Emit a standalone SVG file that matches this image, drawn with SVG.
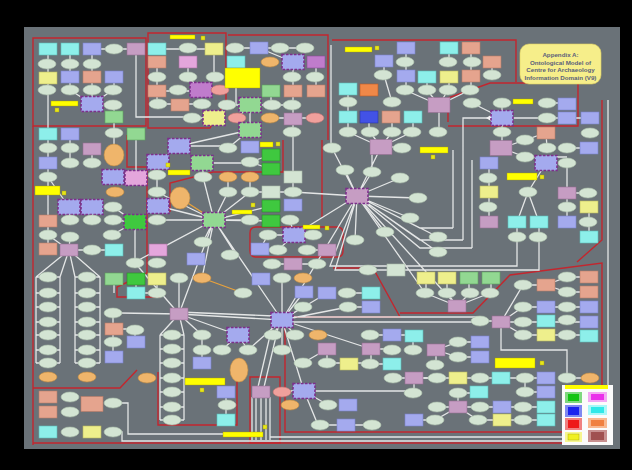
<svg xmlns="http://www.w3.org/2000/svg" width="632" height="470" viewBox="0 0 632 470">
<style>
.e{fill:#d3e4d3;stroke:#aabdaa;stroke-width:.6}
.b{fill:#a4aaee;stroke:#7a82cc;stroke-width:.6}
.B{fill:#4252e6;stroke:#2a36a0;stroke-width:.6}
.c{fill:#8defea;stroke:#5cbcb8;stroke-width:.6}
.s{fill:#e5a48e;stroke:#b77c68;stroke-width:.6}
.m{fill:#c69dc3;stroke:#966f93;stroke-width:.6}
.v{fill:#c07ccc;stroke:#8a4c96;stroke-width:.6}
.k{fill:#e4a6dc;stroke:#a870a0;stroke-width:.6}
.y{fill:#eeef8c;stroke:#b8b860;stroke-width:.6}
.g{fill:#92d892;stroke:#5ea45e;stroke-width:.6}
.G{fill:#3fc83f;stroke:#2a8a2a;stroke-width:.6}
.o{fill:#efb56b;stroke:#c08a40;stroke-width:.6}
.p{fill:#f0a09c;stroke:#c07070;stroke-width:.6}
.r{fill:#f08848;stroke:#b85a28;stroke-width:.6}
.q{fill:#d3e4d3;stroke:#aabdaa;stroke-width:.6}
.h{stroke:#7d2f8c;stroke-width:1.6;stroke-dasharray:2.5 1.5}
.lb{fill:#ffff00;stroke:#a8a000;stroke-width:.4}
.sq{fill:#e6e61c;stroke:#a8a000;stroke-width:.4}
#connectors path{fill:none;stroke:#e4e6e6;stroke-width:1.3}
#regions path{fill:none;stroke:#c3262e;stroke-width:1.4}
.title{font-family:"Liberation Sans",Arial,sans-serif;font-weight:bold;font-size:6.2px;fill:#5a5f7a;text-anchor:middle}
</style>
<defs>
<ellipse id="E" rx="9" ry="5"/>
<rect id="R" x="-9" y="-6" width="18" height="12"/>
<rect id="H" x="-11" y="-7.5" width="22" height="15"/>
<ellipse id="OB" rx="10" ry="11"/>
<ellipse id="OT" rx="9" ry="12"/>
</defs>
<rect width="632" height="470" fill="#000"/>
<rect x="24" y="27" width="596" height="422" fill="#6a7278"/>

<g id="regions">
<path d="M33,38H146V126H33Z"/>
<path d="M148,33H226V100L210,128H148Z"/>
<path d="M228,35H328V140"/>
<path d="M332,40H516V82"/>
<path d="M448,122V98L490,83H578V126H448"/>
<path d="M602,100V240L577,262"/>
<path d="M127,135V167H147V273L117,287V297H160"/>
<path d="M33,126V445"/>
<path d="M33,388H120L137,370"/>
<path d="M158,372V425H237V380"/>
<path d="M250,377H280V443H250Z"/>
<path d="M33,443H603"/>
<path d="M400,313H473L510,275L602,263V432H285V320"/>
<path d="M293,317H400L373,268H333"/>
<path d="M256,227H337Q343,227 343,233V251Q343,257 337,257H256Q250,257 250,251V233Q250,227 256,227Z"/>
<path d="M283,140V172H213L170,183V212"/>
<path d="M322,140V217"/>
</g>

<g id="connectors">
<path d="M48,49V134M70,49V90M92,49V104M92,49H136M114,77V90M70,90L92,104M113,90L92,104M92,104H113M114,105V133M136,49V117H192"/>
<path d="M157,49H214M157,62V104M188,62V77M214,49V77M157,91H220M188,77L201,90M158,104H202M192,118H214"/>
<path d="M235,48H305M259,48L293,62M293,62V192M316,62V91M271,91V105M227,105H292M250,105V130M237,118L250,105M270,118H315M236,62V105M250,130L228,148M250,130L179,146"/>
<path d="M406,48V90M384,61V75M449,48V62M471,48V90M492,62V75M427,77V90M449,77V90M348,89V132M439,105L405,90M439,105L427,90M439,105L448,90M439,105L470,90M439,105V132M381,147L348,132M381,147L370,132M381,147L392,132M381,147L412,132M381,147H402M369,117V132M392,117V132M413,117V132M392,102L384,75M331,45V148"/>
<path d="M472,103L502,118M502,103V148M502,118H547M547,103H567M547,118H590M502,148L525,140M502,148L525,157M525,157H567M525,140L546,133L547,148M567,148H589M489,163V222M528,192L517,222M528,192L539,222M517,222V237M539,222V237M567,193H588M567,193V222M589,207V237M567,163V193M546,163L528,192M490,118H463V240M453,150V228M472,160V248"/>
<path d="M179,146H228M202,163H250M250,162L271,155M250,162L271,169M203,177V163M228,177V192M250,177V192M250,192H293M214,220L228,192M214,220L250,192M214,220L203,177M214,220H250M214,220L271,206M214,220L271,221M214,220L203,242M214,220L157,220M214,220L157,192M214,220L158,206M290,220L294,235M294,235H268M294,235H313M268,235L260,249M278,250L294,235M307,250H327M158,162L179,146M157,175V192M214,220L179,314M214,220L236,255M214,220L282,320M214,220L202,278M214,220L158,250M214,220L133,263"/>
<path d="M48,134V249M70,134V163M114,133V155M92,149V163M136,134V178M48,177L69,207M69,207H113L135,222M70,220L69,207M92,220V207M113,220L135,222M135,222L112,235M135,222V263M48,235L69,250M70,237L69,250M69,250H114M69,250L36,277M69,250L60,277M69,250L75,277M69,250L100,277M36,277V363M60,277V363M75,277V363M100,277V363M36,277H60M36,293H60M36,307H60M36,322H60M36,335H60M36,350H60M36,363H60M75,277H100M75,293H100M75,307H100M75,322H100M75,335H100M75,350H100M75,363H100M114,279V293M136,279V293M157,279V293M136,293H157M113,313V357M135,330V342M114,329H135"/>
<path d="M179,314V278M179,314L160,335M179,314L184,335M160,335V420M184,335V420M160,335H184M160,349H184M160,363H184M160,378H184M160,392H184M160,407H184M160,420H184M179,314L202,335M179,314L238,335M179,314L282,320M179,312L274,316M179,314L135,263M179,314L120,313M238,335L222,350M238,335L248,350M202,335V363M226,392V420M252,397V440M256,397V440M261,397V440M266,397V440M270,397V440M258,387L272,327M264,387L278,328M113,403H128V434H252M113,432H122V441H603M270,437H603M608,100V441"/>
<path d="M272,264H317M282,278V320M304,292L282,320M303,307L282,320M348,307L282,320M327,293L282,320M347,293H371M348,307H371M282,320L273,335M282,320L295,335M282,320L248,350M282,320V350M327,349V363M303,363L327,349M327,363H370M370,335H414M371,349H392M371,349V364M370,364H392M282,320L371,349M293,317H480M293,322H480M304,391H413M304,391L328,405M304,391H282M304,391L282,320M393,378H437M414,378V393M304,391L318,425H346M346,425H372"/>
<path d="M457,306L425,293M457,306L447,293M457,306L470,293M457,306L490,293M426,278V293M447,278V293M469,278V293M491,278V293M480,321H501M501,322L523,307M501,322H523M501,322L523,335M523,307H589M523,322H589M523,335H589M501,322L523,285H546M546,285L567,277H589M546,285L567,292H589M501,327V350H567V378H590M436,350L458,342H480M436,350L458,357H480M436,350V365M413,350V336M414,378H546M525,378V392H546M458,407V393H479M458,407H437M458,407H546M458,407L435,420H414M458,407L478,420H546M357,196L330,266H517V237M357,196L335,270H539V237M357,196L457,306M357,196L425,293"/>
<path d="M357,196L345,170M357,196L372,172M357,196L400,178M357,196L418,198M357,196L410,218M357,196L385,232M357,196L355,240M357,196L381,147M357,196L332,148M357,196L420,228H453M357,196L420,240H463M357,196L420,248H472M357,196L282,320M357,196L294,235M357,196L293,192M357,196L438,237M357,196L438,252M372,172V147"/>
<path d="M202,278L243,293M180,198L214,220" style="stroke:#e8a23c"/>
<path d="M486,118L491,115V121Z" style="fill:#f2f2f2;stroke:none"/>
</g>

<g id="n1"><use href="#R" class="c" x="48" y="49"/></g>
<g id="n2"><use href="#R" class="c" x="70" y="49"/></g>
<g id="n3"><use href="#R" class="b" x="92" y="49"/></g>
<g id="n4"><use href="#E" class="e" x="114" y="49"/></g>
<g id="n5"><use href="#R" class="m" x="136" y="49"/></g>
<g id="n6"><use href="#E" class="e" x="47" y="64"/></g>
<g id="n7"><use href="#E" class="e" x="70" y="64"/></g>
<g id="n8"><use href="#E" class="e" x="92" y="64"/></g>
<g id="n9"><use href="#R" class="y" x="48" y="78"/></g>
<g id="n10"><use href="#R" class="b" x="70" y="77"/></g>
<g id="n11"><use href="#R" class="s" x="92" y="77"/></g>
<g id="n12"><use href="#R" class="b" x="114" y="77"/></g>
<g id="n13"><use href="#E" class="e" x="47" y="90"/></g>
<g id="n14"><use href="#E" class="e" x="70" y="90"/></g>
<g id="n15"><use href="#E" class="e" x="92" y="90"/></g>
<g id="n16"><use href="#E" class="e" x="113" y="90"/></g>
<g id="n17"><use href="#H" class="b h" x="92" y="104"/></g>
<g id="n18"><use href="#E" class="e" x="113" y="105"/></g>
<g id="n19"><use href="#R" class="g" x="114" y="117"/></g>
<g id="n20"><use href="#R" class="c" x="157" y="49"/></g>
<g id="n21"><use href="#E" class="e" x="188" y="48"/></g>
<g id="n22"><use href="#R" class="y" x="214" y="49"/></g>
<g id="n23"><use href="#R" class="s" x="157" y="62"/></g>
<g id="n24"><use href="#R" class="k" x="188" y="62"/></g>
<g id="n25"><use href="#E" class="e" x="157" y="77"/></g>
<g id="n26"><use href="#E" class="e" x="188" y="77"/></g>
<g id="n27"><use href="#E" class="e" x="215" y="77"/></g>
<g id="n28"><use href="#R" class="s" x="157" y="91"/></g>
<g id="n29"><use href="#E" class="e" x="178" y="90"/></g>
<g id="n30"><use href="#H" class="v h" x="201" y="90"/></g>
<g id="n31"><use href="#E" class="p" x="220" y="90"/></g>
<g id="n32"><use href="#E" class="e" x="158" y="104"/></g>
<g id="n33"><use href="#R" class="s" x="180" y="105"/></g>
<g id="n34"><use href="#E" class="e" x="202" y="104"/></g>
<g id="n35"><use href="#E" class="e" x="192" y="118"/></g>
<g id="n36"><use href="#H" class="y h" x="214" y="118"/></g>
<g id="n37"><use href="#E" class="e" x="235" y="48"/></g>
<g id="n38"><use href="#R" class="b" x="259" y="48"/></g>
<g id="n39"><use href="#E" class="e" x="280" y="48"/></g>
<g id="n40"><use href="#E" class="e" x="305" y="48"/></g>
<g id="n41"><use href="#R" class="c" x="236" y="62"/></g>
<g id="n42"><use href="#E" class="o" x="270" y="62"/></g>
<g id="n43"><use href="#H" class="b h" x="293" y="62"/></g>
<g id="n44"><use href="#R" class="v" x="316" y="62"/></g>
<g id="n45"><use href="#E" class="e" x="292" y="77"/></g>
<g id="n46"><use href="#E" class="e" x="315" y="77"/></g>
<g id="n47"><use href="#R" class="g" x="271" y="91"/></g>
<g id="n48"><use href="#R" class="s" x="293" y="91"/></g>
<g id="n49"><use href="#R" class="s" x="316" y="91"/></g>
<g id="n50"><use href="#E" class="e" x="227" y="105"/></g>
<g id="n51"><use href="#H" class="g h" x="250" y="105"/></g>
<g id="n52"><use href="#E" class="e" x="272" y="105"/></g>
<g id="n53"><use href="#E" class="e" x="292" y="105"/></g>
<g id="n54"><use href="#E" class="p" x="237" y="118"/></g>
<g id="n55"><use href="#E" class="o" x="270" y="118"/></g>
<g id="n56"><use href="#R" class="m" x="293" y="119"/></g>
<g id="n57"><use href="#E" class="p" x="315" y="118"/></g>
<g id="n58"><use href="#H" class="g h" x="250" y="130"/></g>
<g id="n59"><use href="#E" class="e" x="292" y="132"/></g>
<g id="n60"><use href="#R" class="b" x="406" y="48"/></g>
<g id="n61"><use href="#R" class="c" x="449" y="48"/></g>
<g id="n62"><use href="#R" class="s" x="471" y="48"/></g>
<g id="n63"><use href="#R" class="b" x="384" y="61"/></g>
<g id="n64"><use href="#E" class="e" x="405" y="62"/></g>
<g id="n65"><use href="#E" class="e" x="448" y="62"/></g>
<g id="n66"><use href="#E" class="e" x="472" y="62"/></g>
<g id="n67"><use href="#R" class="s" x="492" y="62"/></g>
<g id="n68"><use href="#E" class="e" x="383" y="75"/></g>
<g id="n69"><use href="#R" class="b" x="406" y="76"/></g>
<g id="n70"><use href="#R" class="c" x="427" y="77"/></g>
<g id="n71"><use href="#R" class="y" x="449" y="77"/></g>
<g id="n72"><use href="#R" class="s" x="471" y="76"/></g>
<g id="n73"><use href="#E" class="e" x="492" y="75"/></g>
<g id="n74"><use href="#R" class="c" x="348" y="89"/></g>
<g id="n75"><use href="#R" class="r" x="369" y="90"/></g>
<g id="n76"><use href="#E" class="e" x="405" y="90"/></g>
<g id="n77"><use href="#E" class="e" x="427" y="90"/></g>
<g id="n78"><use href="#E" class="e" x="448" y="90"/></g>
<g id="n79"><use href="#E" class="e" x="470" y="90"/></g>
<g id="n80"><use href="#E" class="e" x="348" y="102"/></g>
<g id="n81"><use href="#E" class="e" x="392" y="102"/></g>
<g id="n82"><use href="#H" class="m" x="439" y="105"/></g>
<g id="n83"><use href="#R" class="c" x="348" y="117"/></g>
<g id="n84"><use href="#R" class="B" x="369" y="117"/></g>
<g id="n85"><use href="#R" class="s" x="391" y="117"/></g>
<g id="n86"><use href="#R" class="c" x="413" y="117"/></g>
<g id="n87"><use href="#E" class="e" x="348" y="132"/></g>
<g id="n88"><use href="#E" class="e" x="370" y="132"/></g>
<g id="n89"><use href="#E" class="e" x="392" y="132"/></g>
<g id="n90"><use href="#E" class="e" x="412" y="132"/></g>
<g id="n91"><use href="#E" class="e" x="438" y="132"/></g>
<g id="n92"><use href="#H" class="m" x="381" y="147"/></g>
<g id="n93"><use href="#E" class="e" x="332" y="148"/></g>
<g id="n94"><use href="#E" class="e" x="402" y="148"/></g>
<g id="n95"><use href="#E" class="e" x="472" y="103"/></g>
<g id="n96"><use href="#E" class="e" x="502" y="103"/></g>
<g id="n97"><use href="#E" class="e" x="547" y="103"/></g>
<g id="n98"><use href="#R" class="b" x="567" y="104"/></g>
<g id="n99"><use href="#H" class="b h" x="502" y="118"/></g>
<g id="n100"><use href="#E" class="e" x="547" y="118"/></g>
<g id="n101"><use href="#R" class="b" x="567" y="118"/></g>
<g id="n102"><use href="#R" class="b" x="590" y="118"/></g>
<g id="n104"><use href="#E" class="e" x="502" y="132"/></g>
<g id="n105"><use href="#R" class="s" x="546" y="133"/></g>
<g id="n106"><use href="#E" class="e" x="590" y="133"/></g>
<g id="n107"><use href="#H" class="m" x="501" y="148"/></g>
<g id="n108"><use href="#E" class="e" x="525" y="140"/></g>
<g id="n109"><use href="#E" class="e" x="547" y="148"/></g>
<g id="n110"><use href="#E" class="e" x="567" y="148"/></g>
<g id="n111"><use href="#R" class="b" x="589" y="148"/></g>
<g id="n112"><use href="#E" class="e" x="525" y="157"/></g>
<g id="n113"><use href="#H" class="b h" x="546" y="163"/></g>
<g id="n114"><use href="#E" class="e" x="567" y="163"/></g>
<g id="n115"><use href="#R" class="b" x="489" y="163"/></g>
<g id="n116"><use href="#E" class="e" x="488" y="178"/></g>
<g id="n117"><use href="#R" class="y" x="489" y="192"/></g>
<g id="n118"><use href="#E" class="e" x="528" y="192"/></g>
<g id="n119"><use href="#R" class="m" x="567" y="193"/></g>
<g id="n120"><use href="#E" class="e" x="588" y="193"/></g>
<g id="n121"><use href="#E" class="e" x="488" y="207"/></g>
<g id="n122"><use href="#E" class="e" x="567" y="207"/></g>
<g id="n123"><use href="#R" class="y" x="589" y="207"/></g>
<g id="n124"><use href="#R" class="m" x="489" y="222"/></g>
<g id="n125"><use href="#R" class="c" x="517" y="222"/></g>
<g id="n126"><use href="#R" class="c" x="539" y="222"/></g>
<g id="n127"><use href="#R" class="b" x="567" y="222"/></g>
<g id="n128"><use href="#E" class="e" x="588" y="222"/></g>
<g id="n129"><use href="#E" class="e" x="438" y="237"/></g>
<g id="n130"><use href="#E" class="e" x="517" y="237"/></g>
<g id="n131"><use href="#E" class="e" x="538" y="237"/></g>
<g id="n132"><use href="#R" class="c" x="589" y="237"/></g>
<g id="n133"><use href="#E" class="e" x="438" y="252"/></g>
<g id="n134"><use href="#H" class="b h" x="179" y="146"/></g>
<g id="n135"><use href="#E" class="e" x="228" y="148"/></g>
<g id="n136"><use href="#R" class="b" x="250" y="147"/></g>
<g id="n137"><use href="#H" class="b h" x="158" y="162"/></g>
<g id="n138"><use href="#H" class="g h" x="202" y="163"/></g>
<g id="n139"><use href="#E" class="e" x="250" y="162"/></g>
<g id="n140"><use href="#R" class="G" x="271" y="155"/></g>
<g id="n141"><use href="#R" class="G" x="271" y="169"/></g>
<g id="n142"><use href="#E" class="e" x="157" y="175"/></g>
<g id="n143"><use href="#E" class="e" x="203" y="177"/></g>
<g id="n144"><use href="#E" class="o" x="228" y="177"/></g>
<g id="n145"><use href="#E" class="o" x="250" y="177"/></g>
<g id="n146"><use href="#E" class="e" x="157" y="192"/></g>
<g id="n147"><use href="#OB" class="o" x="180" y="198"/></g>
<g id="n148"><use href="#E" class="e" x="228" y="192"/></g>
<g id="n149"><use href="#E" class="e" x="250" y="192"/></g>
<g id="n150"><use href="#R" class="q" x="271" y="192"/></g>
<g id="n151"><use href="#E" class="e" x="293" y="192"/></g>
<g id="n152"><use href="#R" class="q" x="293" y="177"/></g>
<g id="n153"><use href="#H" class="b h" x="158" y="206"/></g>
<g id="n155"><use href="#R" class="G" x="271" y="206"/></g>
<g id="n156"><use href="#R" class="b" x="293" y="205"/></g>
<g id="n157"><use href="#H" class="g h" x="214" y="220"/></g>
<g id="n158"><use href="#E" class="e" x="157" y="220"/></g>
<g id="n159"><use href="#R" class="G" x="271" y="221"/></g>
<g id="n160"><use href="#E" class="e" x="250" y="220"/></g>
<g id="n161"><use href="#E" class="e" x="290" y="220"/></g>
<g id="n162"><use href="#H" class="b h" x="294" y="235"/></g>
<g id="n163"><use href="#E" class="e" x="268" y="235"/></g>
<g id="n164"><use href="#E" class="e" x="313" y="235"/></g>
<g id="n165"><use href="#E" class="e" x="203" y="242"/></g>
<g id="n166"><use href="#R" class="b" x="260" y="249"/></g>
<g id="n167"><use href="#E" class="e" x="278" y="250"/></g>
<g id="n168"><use href="#E" class="e" x="307" y="250"/></g>
<g id="n169"><use href="#R" class="m" x="327" y="250"/></g>
<g id="n170"><use href="#R" class="k" x="158" y="250"/></g>
<g id="n171"><use href="#R" class="c" x="48" y="134"/></g>
<g id="n172"><use href="#R" class="b" x="70" y="134"/></g>
<g id="n173"><use href="#E" class="e" x="114" y="133"/></g>
<g id="n174"><use href="#R" class="g" x="136" y="134"/></g>
<g id="n175"><use href="#E" class="e" x="48" y="148"/></g>
<g id="n176"><use href="#E" class="e" x="70" y="148"/></g>
<g id="n177"><use href="#R" class="m" x="92" y="149"/></g>
<g id="n178"><use href="#OB" class="o" x="114" y="155"/></g>
<g id="n179"><use href="#R" class="b" x="48" y="163"/></g>
<g id="n180"><use href="#E" class="e" x="70" y="163"/></g>
<g id="n181"><use href="#E" class="e" x="92" y="163"/></g>
<g id="n182"><use href="#H" class="b h" x="113" y="177"/></g>
<g id="n183"><use href="#H" class="k h" x="136" y="178"/></g>
<g id="n184"><use href="#E" class="e" x="48" y="177"/></g>
<g id="n185"><use href="#E" class="o" x="115" y="192"/></g>
<g id="n186"><use href="#H" class="b h" x="69" y="207"/></g>
<g id="n187"><use href="#H" class="b h" x="92" y="207"/></g>
<g id="n188"><use href="#E" class="e" x="113" y="207"/></g>
<g id="n189"><use href="#H" class="G h" x="135" y="222"/></g>
<g id="n190"><use href="#E" class="e" x="70" y="220"/></g>
<g id="n191"><use href="#E" class="e" x="92" y="220"/></g>
<g id="n192"><use href="#E" class="e" x="113" y="220"/></g>
<g id="n193"><use href="#R" class="s" x="48" y="221"/></g>
<g id="n194"><use href="#E" class="e" x="48" y="235"/></g>
<g id="n195"><use href="#E" class="e" x="70" y="237"/></g>
<g id="n196"><use href="#E" class="e" x="112" y="235"/></g>
<g id="n197"><use href="#R" class="s" x="48" y="249"/></g>
<g id="n198"><use href="#R" class="m" x="69" y="250"/></g>
<g id="n199"><use href="#E" class="e" x="92" y="250"/></g>
<g id="n200"><use href="#R" class="c" x="114" y="250"/></g>
<g id="n201"><use href="#E" class="e" x="135" y="263"/></g>
<g id="n201b"><use href="#E" class="e" x="157" y="263"/></g>
<g id="n202"><use href="#E" class="e" x="48" y="277"/></g>
<g id="n203"><use href="#E" class="e" x="48" y="293"/></g>
<g id="n204"><use href="#E" class="e" x="48" y="307"/></g>
<g id="n205"><use href="#E" class="e" x="48" y="322"/></g>
<g id="n206"><use href="#E" class="e" x="48" y="335"/></g>
<g id="n207"><use href="#E" class="e" x="48" y="350"/></g>
<g id="n208"><use href="#E" class="e" x="48" y="363"/></g>
<g id="n209"><use href="#E" class="e" x="87" y="277"/></g>
<g id="n210"><use href="#E" class="e" x="87" y="293"/></g>
<g id="n211"><use href="#E" class="e" x="87" y="307"/></g>
<g id="n212"><use href="#E" class="e" x="87" y="322"/></g>
<g id="n213"><use href="#E" class="e" x="87" y="335"/></g>
<g id="n214"><use href="#E" class="e" x="87" y="350"/></g>
<g id="n215"><use href="#E" class="e" x="87" y="363"/></g>
<g id="n216"><use href="#R" class="g" x="114" y="279"/></g>
<g id="n217"><use href="#R" class="G" x="136" y="279"/></g>
<g id="n218"><use href="#R" class="y" x="157" y="279"/></g>
<g id="n219"><use href="#R" class="c" x="136" y="293"/></g>
<g id="n220"><use href="#E" class="e" x="157" y="293"/></g>
<g id="n221"><use href="#E" class="e" x="113" y="313"/></g>
<g id="n222"><use href="#E" class="e" x="135" y="330"/></g>
<g id="n223"><use href="#R" class="s" x="114" y="329"/></g>
<g id="n224"><use href="#E" class="e" x="113" y="342"/></g>
<g id="n225"><use href="#R" class="b" x="136" y="342"/></g>
<g id="n226"><use href="#R" class="b" x="114" y="357"/></g>
<g id="n227"><use href="#E" class="o" x="48" y="377"/></g>
<g id="n228"><use href="#E" class="o" x="87" y="377"/></g>
<g id="n229"><use href="#E" class="o" x="147" y="378"/></g>
<g id="n230"><use href="#R" class="m" x="179" y="314"/></g>
<g id="n231"><use href="#E" class="e" x="179" y="278"/></g>
<g id="n232"><use href="#E" class="o" x="202" y="278"/></g>
<g id="n233"><use href="#E" class="e" x="243" y="293"/></g>
<g id="n234"><use href="#R" class="b" x="261" y="279"/></g>
<g id="n235"><use href="#E" class="e" x="230" y="255"/></g>
<g id="n236"><use href="#R" class="b" x="196" y="259"/></g>
<g id="n237"><use href="#E" class="e" x="172" y="335"/></g>
<g id="n238"><use href="#E" class="e" x="172" y="349"/></g>
<g id="n239"><use href="#E" class="e" x="172" y="363"/></g>
<g id="n240"><use href="#E" class="e" x="172" y="378"/></g>
<g id="n241"><use href="#E" class="e" x="172" y="392"/></g>
<g id="n242"><use href="#E" class="e" x="172" y="407"/></g>
<g id="n243"><use href="#E" class="e" x="172" y="420"/></g>
<g id="n244"><use href="#E" class="e" x="202" y="335"/></g>
<g id="n245"><use href="#E" class="e" x="202" y="350"/></g>
<g id="n246"><use href="#R" class="b" x="202" y="363"/></g>
<g id="n247"><use href="#H" class="b h" x="238" y="335"/></g>
<g id="n248"><use href="#E" class="e" x="222" y="350"/></g>
<g id="n249"><use href="#E" class="e" x="248" y="350"/></g>
<g id="n250"><use href="#OT" class="o" x="239" y="370"/></g>
<g id="n251"><use href="#R" class="b" x="226" y="392"/></g>
<g id="n252"><use href="#E" class="e" x="227" y="405"/></g>
<g id="n253"><use href="#R" class="c" x="226" y="420"/></g>
<g id="n254"><use href="#R" class="m" x="261" y="392"/></g>
<g id="n255"><use href="#R" class="m" x="293" y="264"/></g>
<g id="n256"><use href="#E" class="e" x="272" y="264"/></g>
<g id="n257"><use href="#E" class="e" x="317" y="264"/></g>
<g id="n258"><use href="#E" class="e" x="368" y="270"/></g>
<g id="n259"><use href="#R" class="q" x="396" y="270"/></g>
<g id="n260"><use href="#R" class="y" x="426" y="278"/></g>
<g id="n261"><use href="#E" class="e" x="282" y="278"/></g>
<g id="n262"><use href="#E" class="o" x="303" y="278"/></g>
<g id="n263"><use href="#R" class="b" x="304" y="292"/></g>
<g id="n264"><use href="#R" class="b" x="327" y="293"/></g>
<g id="n265"><use href="#E" class="e" x="347" y="293"/></g>
<g id="n266"><use href="#R" class="c" x="371" y="293"/></g>
<g id="n267"><use href="#E" class="e" x="425" y="293"/></g>
<g id="n268"><use href="#E" class="e" x="303" y="307"/></g>
<g id="n269"><use href="#E" class="e" x="348" y="307"/></g>
<g id="n270"><use href="#R" class="b" x="371" y="307"/></g>
<g id="n271"><use href="#H" class="b h" x="282" y="320"/></g>
<g id="n272"><use href="#E" class="e" x="273" y="335"/></g>
<g id="n273"><use href="#E" class="e" x="295" y="335"/></g>
<g id="n274"><use href="#E" class="o" x="318" y="335"/></g>
<g id="n276"><use href="#E" class="e" x="282" y="350"/></g>
<g id="n277"><use href="#R" class="m" x="327" y="349"/></g>
<g id="n278"><use href="#E" class="e" x="370" y="335"/></g>
<g id="n279"><use href="#R" class="b" x="392" y="335"/></g>
<g id="n280"><use href="#R" class="c" x="414" y="336"/></g>
<g id="n281"><use href="#R" class="m" x="371" y="349"/></g>
<g id="n282"><use href="#E" class="e" x="392" y="350"/></g>
<g id="n283"><use href="#E" class="e" x="413" y="350"/></g>
<g id="n284"><use href="#R" class="m" x="436" y="350"/></g>
<g id="n285"><use href="#E" class="e" x="303" y="363"/></g>
<g id="n286"><use href="#E" class="e" x="327" y="363"/></g>
<g id="n287"><use href="#R" class="y" x="349" y="364"/></g>
<g id="n288"><use href="#E" class="e" x="370" y="364"/></g>
<g id="n289"><use href="#R" class="c" x="392" y="364"/></g>
<g id="n290"><use href="#E" class="e" x="435" y="365"/></g>
<g id="n291"><use href="#E" class="e" x="393" y="378"/></g>
<g id="n292"><use href="#R" class="m" x="414" y="378"/></g>
<g id="n293"><use href="#E" class="e" x="437" y="378"/></g>
<g id="n294"><use href="#H" class="b h" x="304" y="391"/></g>
<g id="n295"><use href="#E" class="p" x="282" y="392"/></g>
<g id="n296"><use href="#E" class="o" x="290" y="405"/></g>
<g id="n297"><use href="#E" class="e" x="413" y="393"/></g>
<g id="n298"><use href="#E" class="e" x="328" y="405"/></g>
<g id="n299"><use href="#R" class="b" x="348" y="405"/></g>
<g id="n302"><use href="#R" class="y" x="447" y="278"/></g>
<g id="n303"><use href="#R" class="g" x="469" y="278"/></g>
<g id="n304"><use href="#R" class="g" x="491" y="278"/></g>
<g id="n305"><use href="#E" class="e" x="447" y="293"/></g>
<g id="n306"><use href="#E" class="e" x="470" y="293"/></g>
<g id="n307"><use href="#E" class="e" x="490" y="293"/></g>
<g id="n308"><use href="#R" class="m" x="457" y="306"/></g>
<g id="n309"><use href="#E" class="e" x="523" y="285"/></g>
<g id="n310"><use href="#R" class="s" x="546" y="285"/></g>
<g id="n311"><use href="#E" class="e" x="567" y="277"/></g>
<g id="n312"><use href="#R" class="s" x="589" y="277"/></g>
<g id="n313"><use href="#E" class="e" x="567" y="292"/></g>
<g id="n314"><use href="#R" class="s" x="589" y="292"/></g>
<g id="n315"><use href="#E" class="e" x="480" y="321"/></g>
<g id="n316"><use href="#R" class="m" x="501" y="322"/></g>
<g id="n317"><use href="#E" class="e" x="523" y="307"/></g>
<g id="n318"><use href="#R" class="b" x="546" y="307"/></g>
<g id="n319"><use href="#E" class="e" x="567" y="307"/></g>
<g id="n320"><use href="#R" class="b" x="589" y="307"/></g>
<g id="n321"><use href="#E" class="e" x="523" y="322"/></g>
<g id="n322"><use href="#R" class="c" x="546" y="321"/></g>
<g id="n323"><use href="#E" class="e" x="567" y="320"/></g>
<g id="n324"><use href="#R" class="b" x="589" y="322"/></g>
<g id="n325"><use href="#E" class="e" x="523" y="335"/></g>
<g id="n326"><use href="#R" class="y" x="546" y="335"/></g>
<g id="n327"><use href="#E" class="e" x="567" y="335"/></g>
<g id="n328"><use href="#R" class="c" x="589" y="336"/></g>
<g id="n329"><use href="#E" class="e" x="458" y="342"/></g>
<g id="n330"><use href="#R" class="b" x="480" y="342"/></g>
<g id="n331"><use href="#E" class="e" x="458" y="357"/></g>
<g id="n332"><use href="#R" class="b" x="480" y="357"/></g>
<g id="n333"><use href="#R" class="y" x="458" y="378"/></g>
<g id="n334"><use href="#E" class="e" x="480" y="378"/></g>
<g id="n335"><use href="#R" class="c" x="501" y="378"/></g>
<g id="n336"><use href="#E" class="e" x="525" y="378"/></g>
<g id="n337"><use href="#R" class="b" x="546" y="378"/></g>
<g id="n338"><use href="#E" class="e" x="567" y="378"/></g>
<g id="n339"><use href="#E" class="o" x="590" y="378"/></g>
<g id="n340"><use href="#E" class="e" x="458" y="393"/></g>
<g id="n341"><use href="#R" class="c" x="479" y="392"/></g>
<g id="n342"><use href="#E" class="e" x="525" y="392"/></g>
<g id="n343"><use href="#R" class="b" x="546" y="392"/></g>
<g id="n344"><use href="#R" class="m" x="458" y="407"/></g>
<g id="n345"><use href="#E" class="e" x="437" y="407"/></g>
<g id="n346"><use href="#E" class="e" x="480" y="407"/></g>
<g id="n347"><use href="#R" class="b" x="502" y="407"/></g>
<g id="n348"><use href="#E" class="e" x="523" y="407"/></g>
<g id="n349"><use href="#R" class="c" x="546" y="407"/></g>
<g id="n350"><use href="#R" class="b" x="414" y="420"/></g>
<g id="n351"><use href="#E" class="e" x="435" y="420"/></g>
<g id="n352"><use href="#E" class="e" x="478" y="420"/></g>
<g id="n353"><use href="#R" class="y" x="502" y="420"/></g>
<g id="n354"><use href="#E" class="e" x="523" y="420"/></g>
<g id="n355"><use href="#R" class="c" x="546" y="420"/></g>
<g id="n356"><use href="#H" class="m h" x="357" y="196"/></g>
<g id="n357"><use href="#R" class="s" x="48" y="397"/></g>
<g id="n358"><use href="#E" class="e" x="70" y="397"/></g>
<g id="n359"><use href="#R" class="s" x="48" y="412"/></g>
<g id="n360"><use href="#E" class="e" x="70" y="412"/></g>
<g id="n361"><use href="#H" class="s" x="92" y="404"/></g>
<g id="n362"><use href="#E" class="e" x="113" y="403"/></g>
<g id="n363"><use href="#R" class="c" x="48" y="432"/></g>
<g id="n364"><use href="#E" class="e" x="70" y="432"/></g>
<g id="n365"><use href="#R" class="y" x="92" y="432"/></g>
<g id="n366"><use href="#E" class="e" x="113" y="432"/></g>
<g id="n367"><use href="#E" class="e" x="345" y="170"/></g>
<g id="n368"><use href="#E" class="e" x="372" y="172"/></g>
<g id="n369"><use href="#E" class="e" x="400" y="178"/></g>
<g id="n370"><use href="#E" class="e" x="418" y="198"/></g>
<g id="n371"><use href="#E" class="e" x="410" y="218"/></g>
<g id="n372"><use href="#E" class="e" x="385" y="232"/></g>
<g id="n373"><use href="#E" class="e" x="355" y="240"/></g>
<g id="n374"><use href="#E" class="e" x="320" y="425"/></g>
<g id="n375"><use href="#R" class="b" x="346" y="425"/></g>
<g id="n376"><use href="#E" class="e" x="372" y="425"/></g>

<g id="notes">
<rect class="lb" x="51" y="101" width="27" height="5"/><rect class="sq" x="55" y="108" width="4" height="4"/>
<rect class="lb" x="170" y="35" width="25" height="4"/><rect class="sq" x="201" y="36" width="4" height="4"/>
<rect class="lb" x="225" y="68" width="35" height="20"/>
<rect class="lb" x="345" y="47" width="27" height="5"/><rect class="sq" x="375" y="46" width="4" height="4"/>
<rect class="lb" x="420" y="147" width="28" height="6"/><rect class="sq" x="431" y="155" width="4" height="4"/>
<rect class="lb" x="513" y="99" width="20" height="5"/>
<rect class="lb" x="507" y="173" width="30" height="7"/><rect class="sq" x="540" y="175" width="4" height="4"/>
<rect class="lb" x="260" y="142" width="13" height="5"/><rect class="sq" x="276" y="142" width="4" height="4"/>
<rect class="lb" x="168" y="170" width="22" height="5"/><rect class="sq" x="166" y="163" width="4" height="4"/>
<rect class="lb" x="232" y="210" width="20" height="4"/><rect class="sq" x="251" y="203" width="4" height="4"/>
<rect class="lb" x="303" y="225" width="17" height="4"/><rect class="sq" x="325" y="226" width="4" height="4"/>
<rect class="lb" x="35" y="186" width="25" height="9"/><rect class="sq" x="62" y="191" width="4" height="4"/>
<rect class="lb" x="185" y="378" width="40" height="7"/><rect class="sq" x="200" y="388" width="4" height="4"/>
<rect class="lb" x="223" y="432" width="40" height="5"/><rect class="sq" x="263" y="425" width="4" height="4"/>
<rect class="lb" x="495" y="358" width="40" height="10"/><rect class="sq" x="540" y="361" width="4" height="4"/>
</g>

<g id="title">
<rect x="520" y="44" width="81" height="40" rx="9" fill="#f6ee8a" stroke="#e0d060" stroke-width=".6"/>
<text class="title" x="560.5" y="57">Appendix A:</text>
<text class="title" x="560.5" y="64.5">Ontological Model of</text>
<text class="title" x="560.5" y="72">Centre for Archaeology</text>
<text class="title" x="560.5" y="79.5">Information Domain (V9)</text>
</g>

<g id="legend">
<rect x="562" y="385" width="51" height="60" fill="#fbfbfb"/>
<rect x="565" y="385" width="43" height="4" fill="#ffff00"/>
<rect x="565" y="392" width="17" height="11" fill="#7fd87f"/><rect x="568" y="394" width="11" height="7" fill="#12c412"/>
<rect x="588" y="392" width="19" height="10" fill="#f3a8f3"/><rect x="591" y="394" width="13" height="6" fill="#ea30ea"/>
<rect x="565" y="405" width="17" height="12" fill="#7f88f0"/><rect x="568" y="407" width="11" height="8" fill="#1a22ee"/>
<rect x="588" y="405" width="19" height="10" fill="#a8f8f8"/><rect x="591" y="407" width="13" height="6" fill="#30e8e8"/>
<rect x="565" y="418" width="17" height="12" fill="#f08080"/><rect x="568" y="420" width="11" height="8" fill="#ee1a1a"/>
<rect x="588" y="418" width="19" height="10" fill="#f8b890"/><rect x="591" y="420" width="13" height="6" fill="#f08040"/>
<rect x="565" y="432" width="17" height="10" fill="#f6f690"/><rect x="568" y="434" width="11" height="6" fill="#f0f020" stroke="#a0a000" stroke-width=".4"/>
<rect x="588" y="430" width="19" height="12" fill="#c89090"/><rect x="591" y="432" width="13" height="8" fill="#a05050"/>
</g>
</svg>
